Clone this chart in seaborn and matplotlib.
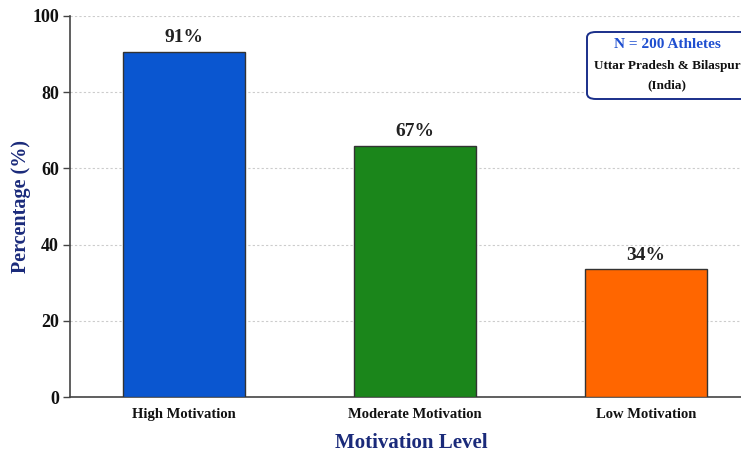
import matplotlib
matplotlib.use("Agg")
import matplotlib.pyplot as plt
import seaborn as sns
import pandas as pd
from matplotlib.patches import FancyBboxPatch

categories = ["High Motivation", "Moderate Motivation", "Low Motivation"]
values = [90.5, 66.0, 33.5]
value_labels = ["91%", "67%", "34%"]
colors = ["#0a56d0", "#1b861b", "#ff6600"]
yticks = [0, 20, 40, 60, 80, 100]

df = pd.DataFrame({"level": categories, "pct": values})

sns.set_theme(style="white")
plt.rcParams["font.family"] = ["Liberation Serif", "DejaVu Serif"]
plt.rcParams["font.weight"] = "bold"

fig = plt.figure(figsize=(7.41, 4.58), dpi=100)
ax = fig.add_axes([70 / 741, 61 / 458, 730 / 741, 381 / 458])

sns.barplot(data=df, x="level", y="pct", hue="level", palette=colors,
            legend=False, width=0.528, saturation=1, edgecolor="#333333",
            linewidth=1.0, ax=ax, zorder=3)

ax.set_xlim(-0.494, 2.666)
ax.set_ylim(0, 100)
ax.set_yticks(yticks)
ax.set_yticklabels([str(t) for t in yticks], fontsize=13, fontweight="bold", color="#111111")
ax.tick_params(axis="y", length=5, width=1, color="#444444", pad=3, left=True)
ax.tick_params(axis="x", length=0, pad=8)
for lab in ax.get_xticklabels():
    lab.set_fontsize(10.5)
    lab.set_fontweight("bold")
    lab.set_color("#111111")

ax.yaxis.grid(True, linestyle=(0, (2, 2)), color="#cccccc", linewidth=0.8, zorder=0)
ax.xaxis.grid(False)
for s in ["top", "right"]:
    ax.spines[s].set_visible(False)
for s in ["left", "bottom"]:
    ax.spines[s].set_color("#444444")
    ax.spines[s].set_linewidth(1.2)

ax.set_ylabel("Percentage (%)", fontsize=14.5, fontweight="bold", color="#1a2a7a", labelpad=1)
ax.set_xlabel("Motivation Level", fontsize=15, fontweight="bold", color="#1a2a7a")
ax.xaxis.set_label_coords(0.468, -0.094)

for i, (v, lab) in enumerate(zip(values, value_labels)):
    ax.text(i, v + 1.5, lab, ha="center", va="bottom", fontsize=14,
            fontweight="bold", color="#222222", zorder=4)

# annotation box
box = FancyBboxPatch((587 / 741, (458 - 99) / 458), 175 / 741, 67 / 458,
                     boxstyle="round,pad=0,rounding_size=0.012",
                     transform=fig.transFigure, facecolor="white",
                     edgecolor="#1a2f8a", linewidth=1.4, zorder=5)
fig.patches.append(box)
fig.text(667 / 741, (458 - 45) / 458, "N = 200 Athletes", ha="center", va="center",
         fontsize=11, fontweight="bold", color="#1f4fd0", zorder=6)
fig.text(667 / 741, (458 - 66) / 458, "Uttar Pradesh & Bilaspur", ha="center", va="center",
         fontsize=9.5, fontweight="bold", color="#111111", zorder=6)
fig.text(667 / 741, (458 - 85) / 458, "(India)", ha="center", va="center",
         fontsize=9.5, fontweight="bold", color="#111111", zorder=6)

fig.savefig("out.png", dpi=100)
